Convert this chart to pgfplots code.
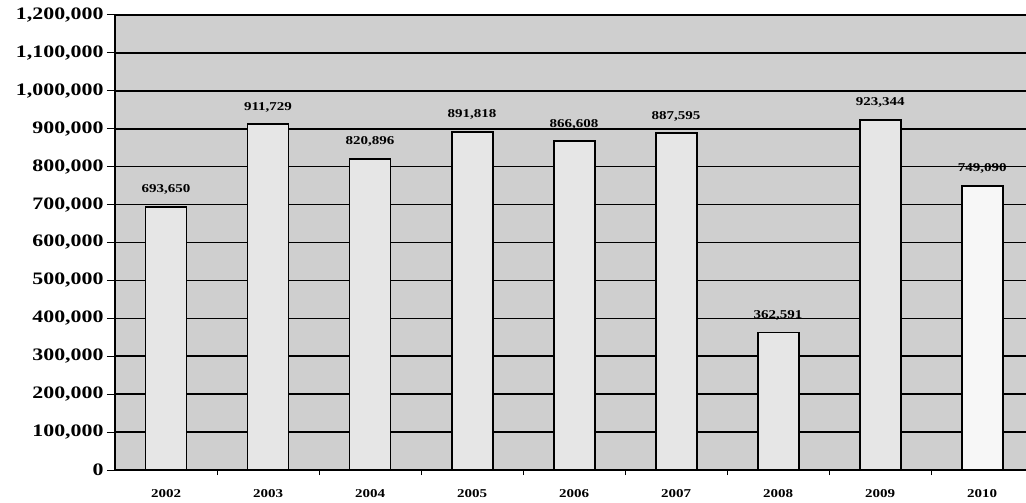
\documentclass[border=0pt]{standalone}
\usepackage{pgfplots}
\pgfplotsset{compat=1.18}
\usepackage{fontspec}
\setmainfont{Liberation Serif}
\newfontfamily\chartfont[FakeStretch=1.25]{Liberation Serif}
\definecolor{plotbg}{HTML}{CFCFCF}
\definecolor{barfill}{HTML}{E6E6E6}
\definecolor{barlast}{HTML}{F7F7F7}
\begin{document}
\begin{tikzpicture}[x=1bp,y=1bp]
\begin{axis}[
    width=911bp, height=455bp,
    scale only axis,
    xmin=-0.5, xmax=8.43,
    ymin=0, ymax=1200000,
    axis x line*=bottom,
    axis y line*=left,
    axis line style={black, line width=1.4bp},
    axis background/.style={fill=plotbg},
    ytick={0,100000,...,1200000},
    scaled y ticks=false,
    yticklabel style={/pgf/number format/fixed,
        /pgf/number format/1000 sep={,},
        /pgf/number format/assume math mode=true,
        font=\chartfont\bfseries\fontsize{17.5bp}{20bp}\selectfont},
    ymajorgrids,
    grid style={black, line width=1.6bp},
    xtick={0,...,8},
    minor xtick={0.5,1.5,...,7.5},
    xticklabels={2002,2003,2004,2005,2006,2007,2008,2009,2010},
    xticklabel style={font=\chartfont\bfseries\fontsize{12bp}{14bp}\selectfont, yshift=-8bp},
    every major x tick/.style={draw=none},
    every minor x tick/.style={black, line width=1bp},
    minor tick length=5bp,
    y tick style={black, line width=1bp},
    tick align=outside,
    major tick length=8bp,
    ybar, bar width=41bp, bar shift=0pt,
    nodes near coords={\pgfmathprintnumber[fixed,1000 sep={,},assume math mode=true]{\pgfplotspointmeta}},
    nodes near coords style={font=\chartfont\bfseries\fontsize{12bp}{14bp}\selectfont, yshift=8bp},
    point meta=explicit,
    clip=false,
]
\addplot[draw=black, line width=1.9bp, fill=barfill] coordinates {
    (0,693650) [693650]
    (1,911729) [911729]
    (2,820896) [820896]
    (3,891818) [891818]
    (4,866608) [866608]
    (5,887595) [887595]
    (6,362591) [362591]
    (7,923344) [923344]
};
\addplot[draw=black, line width=1.9bp, fill=barlast] coordinates {
    (8,749090) [749090]
};
\end{axis}
\pgfresetboundingbox
\path[use as bounding box] ([xshift=-115bp,yshift=-33bp]current axis.south west) rectangle ([yshift=15bp]current axis.north east);
\end{tikzpicture}
\end{document}
